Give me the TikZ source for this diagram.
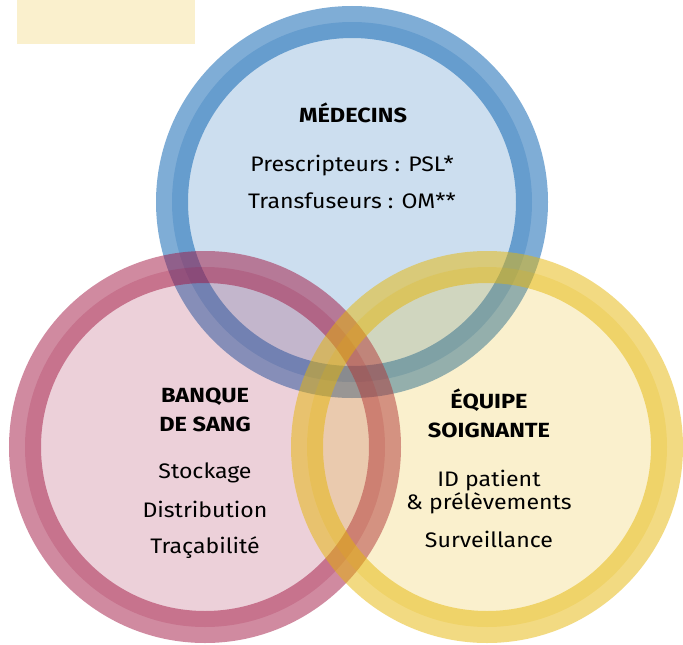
\documentclass[tikz,border=0pt]{standalone}
\usepackage{fontspec}
\setmainfont[FakeStretch=1.1]{Fira Sans}
\newfontfamily\headfont[FakeStretch=1.15]{Fira Sans}
\definecolor{cblue}{RGB}{0,91,173}
\definecolor{cpink}{RGB}{161,21,65}
\definecolor{cyell}{RGB}{229,181,5}
\tikzset{
  venn/.style={fill=#1, fill opacity=0.2, draw=#1, draw opacity=0.5, line width=32pt},
  head/.style={anchor=base, inner sep=0pt, font=\headfont\fontsize{20.5}{24}\selectfont\bfseries, text opacity=1},
  item/.style={anchor=base, inner sep=0pt, font=\fontsize{21}{25}\selectfont, text opacity=1}
}
\begin{document}
\begin{tikzpicture}[x=1pt,y=-1pt]
\useasboundingbox (0,0) rectangle (683,645);
\fill[cyell, fill opacity=0.2] (17,0) rectangle (195,44);
\path[venn=cblue] (352,202) circle[radius=180pt];
\path[venn=cpink] (205,447) circle[radius=180pt];
\path[venn=cyell] (487,447) circle[radius=180pt];
% Medecins
\node[head] (m1) at (353,122) {MÉDECINS};
\node[item] (m2) at (352,171) {Prescripteurs : PSL*};
\node[item] (m3) at (352,208) {Transfuseurs : OM**};
% Banque
\node[head] (b1) at (205,402) {BANQUE};
\node[head] (b2) at (205,431) {DE SANG};
\node[item] (b3) at (205,478) {Stockage};
\node[item] (b4) at (205,517) {Distribution};
\node[item] (b5) at (205,553) {Traçabilité};
% Equipe
\node[head] (e1) at (489,408) {ÉQUIPE};
\node[head] (e2) at (489,437) {SOIGNANTE};
\node[item] (e3) at (489,486) {ID patient};
\node[item] (e4) at (489,509) {\& prélèvements};
\node[item] (e5) at (489,547) {Surveillance};
\end{tikzpicture}
\end{document}
